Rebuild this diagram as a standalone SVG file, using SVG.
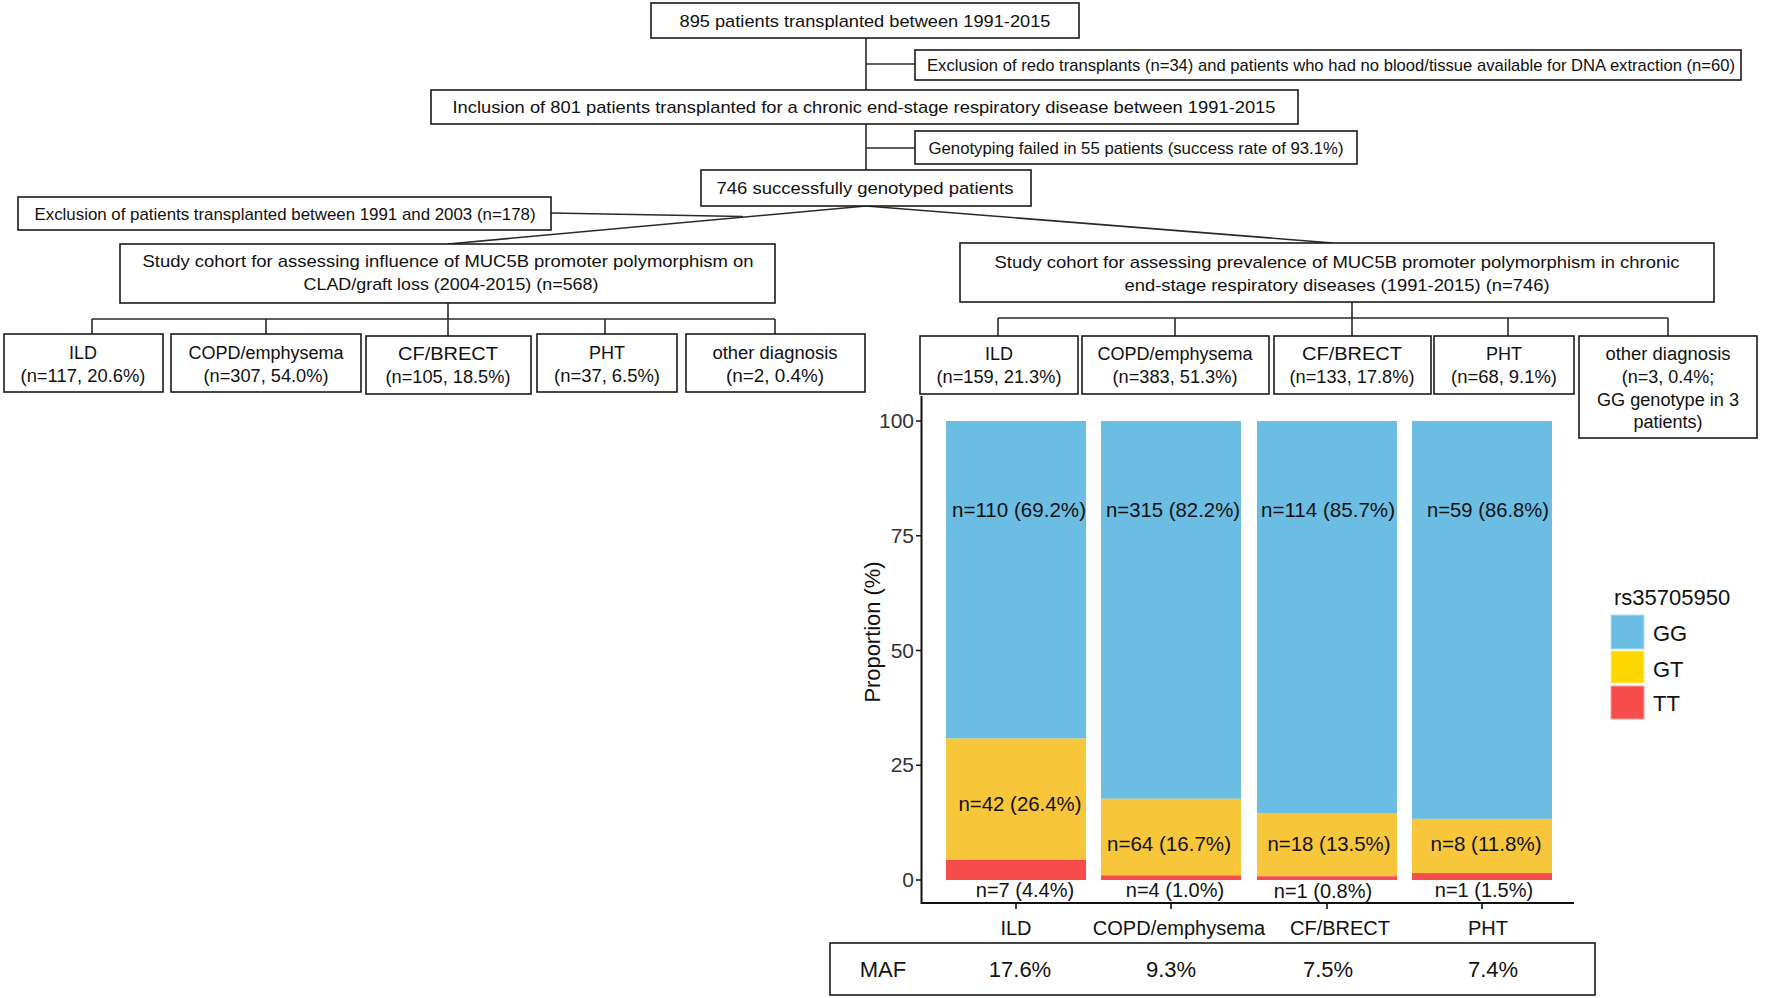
<svg xmlns="http://www.w3.org/2000/svg" width="1772" height="998" viewBox="0 0 1772 998">
<style>
.bg{fill:#ffffff}
.box{fill:#ffffff;stroke:#1a1a1a;stroke-width:1.6}
.ln{stroke:#2a2a2a;stroke-width:1.6;fill:none}
.t{font-family:"Liberation Sans",Arial,sans-serif;font-size:17px;fill:#111;text-anchor:middle}
.d{font-family:"Liberation Sans",Arial,sans-serif;font-size:18px;fill:#111;text-anchor:middle}
.c{font-family:"Liberation Sans",Arial,sans-serif;font-size:20px;fill:#111;text-anchor:middle}
.b{font-family:"Liberation Sans",Arial,sans-serif;font-size:21px;fill:#111;text-anchor:middle}
.m{font-family:"Liberation Sans",Arial,sans-serif;font-size:22px;fill:#111;text-anchor:middle}
.lg{font-family:"Liberation Sans",Arial,sans-serif;font-size:22px;fill:#111;text-anchor:start}
.tk{font-family:"Liberation Sans",Arial,sans-serif;font-size:21px;fill:#333;text-anchor:end}
.gg{fill:#6bbde3}
.gt{fill:#f8c63b}
.tt{fill:#f74c4c}
.ax{stroke:#111;stroke-width:2;fill:none}
.tick{stroke:#111;stroke-width:1.6;fill:none}
</style>
<rect class="bg" x="0" y="0" width="1772" height="998"/>

<g id="connectors">
  <line class="ln" x1="866" y1="38" x2="866" y2="90"/>
  <line class="ln" x1="866" y1="64" x2="915" y2="64"/>
  <line class="ln" x1="866" y1="124" x2="866" y2="170"/>
  <line class="ln" x1="866" y1="148" x2="915" y2="148"/>
  <line class="ln" x1="866" y1="206" x2="448" y2="244" stroke-width="2"/>
  <line class="ln" x1="866" y1="206" x2="1333" y2="243" stroke-width="2"/>
  <line class="ln" x1="551" y1="213" x2="743" y2="216.5"/>
  <line class="ln" x1="448" y1="303" x2="448" y2="336"/>
  <line class="ln" x1="92" y1="319" x2="775" y2="319"/>
  <line class="ln" x1="92" y1="319" x2="92" y2="334"/>
  <line class="ln" x1="266" y1="319" x2="266" y2="334"/>
  <line class="ln" x1="605" y1="319" x2="605" y2="334"/>
  <line class="ln" x1="775" y1="319" x2="775" y2="334"/>
  <line class="ln" x1="1352" y1="302" x2="1352" y2="336"/>
  <line class="ln" x1="998" y1="318" x2="1668" y2="318"/>
  <line class="ln" x1="998" y1="318" x2="998" y2="336"/>
  <line class="ln" x1="1175" y1="318" x2="1175" y2="336"/>
  <line class="ln" x1="1508" y1="318" x2="1508" y2="336"/>
  <line class="ln" x1="1668" y1="318" x2="1668" y2="336"/>
</g>

<g id="n-total">
  <rect class="box" x="651" y="3" width="428" height="35"/>
  <text class="t" x="865" y="27" textLength="371" lengthAdjust="spacingAndGlyphs">895 patients transplanted between 1991-2015</text>
</g>
<g id="n-excl-redo">
  <rect class="box" x="915" y="50" width="826" height="30"/>
  <text class="t" x="1331" y="71" textLength="808" lengthAdjust="spacingAndGlyphs">Exclusion of redo transplants (n=34) and patients who had no blood/tissue available for DNA extraction (n=60)</text>
</g>
<g id="n-inclusion">
  <rect class="box" x="431" y="90" width="867" height="34"/>
  <text class="t" x="864" y="113" textLength="823" lengthAdjust="spacingAndGlyphs">Inclusion of 801 patients transplanted for a chronic end-stage respiratory disease between 1991-2015</text>
</g>
<g id="n-geno-fail">
  <rect class="box" x="915" y="131" width="442" height="33"/>
  <text class="t" x="1136" y="154" textLength="415" lengthAdjust="spacingAndGlyphs">Genotyping failed in 55 patients (success rate of 93.1%)</text>
</g>
<g id="n-746">
  <rect class="box" x="701" y="170" width="330" height="36"/>
  <text class="t" x="865" y="194" textLength="297" lengthAdjust="spacingAndGlyphs">746 successfully genotyped patients</text>
</g>
<g id="n-excl-period">
  <rect class="box" x="18" y="197" width="533" height="33"/>
  <text class="t" x="285" y="220" textLength="501" lengthAdjust="spacingAndGlyphs">Exclusion of patients transplanted between 1991 and 2003 (n=178)</text>
</g>
<g id="n-cohort-clad">
  <rect class="box" x="120" y="244" width="655" height="59"/>
  <text class="t" x="448" y="267" textLength="611" lengthAdjust="spacingAndGlyphs">Study cohort for assessing influence of MUC5B promoter polymorphism on</text>
  <text class="t" x="451" y="290" textLength="295" lengthAdjust="spacingAndGlyphs">CLAD/graft loss (2004-2015) (n=568)</text>
</g>
<g id="n-cohort-prev">
  <rect class="box" x="960" y="243" width="754" height="59"/>
  <text class="t" x="1337" y="268" textLength="685" lengthAdjust="spacingAndGlyphs">Study cohort for assessing prevalence of MUC5B promoter polymorphism in chronic</text>
  <text class="t" x="1337" y="291" textLength="425" lengthAdjust="spacingAndGlyphs">end-stage respiratory diseases (1991-2015) (n=746)</text>
</g>

<g id="l-ild">
  <rect class="box" x="4" y="334" width="159" height="58"/>
  <text class="d" x="83" y="359">ILD</text>
  <text class="d" x="83" y="382" textLength="125" lengthAdjust="spacingAndGlyphs">(n=117, 20.6%)</text>
</g>
<g id="l-copd">
  <rect class="box" x="171" y="334" width="190" height="58"/>
  <text class="d" x="266" y="359" textLength="155" lengthAdjust="spacingAndGlyphs">COPD/emphysema</text>
  <text class="d" x="266" y="382" textLength="125" lengthAdjust="spacingAndGlyphs">(n=307, 54.0%)</text>
</g>
<g id="l-cf">
  <rect class="box" x="366" y="336" width="165" height="58"/>
  <text class="d" x="448" y="360" textLength="100" lengthAdjust="spacingAndGlyphs">CF/BRECT</text>
  <text class="d" x="448" y="383" textLength="125" lengthAdjust="spacingAndGlyphs">(n=105, 18.5%)</text>
</g>
<g id="l-pht">
  <rect class="box" x="537" y="334" width="140" height="58"/>
  <text class="d" x="607" y="359">PHT</text>
  <text class="d" x="607" y="382" textLength="106" lengthAdjust="spacingAndGlyphs">(n=37, 6.5%)</text>
</g>
<g id="l-other">
  <rect class="box" x="686" y="334" width="179" height="58"/>
  <text class="d" x="775" y="359" textLength="125" lengthAdjust="spacingAndGlyphs">other diagnosis</text>
  <text class="d" x="775" y="382" textLength="98" lengthAdjust="spacingAndGlyphs">(n=2, 0.4%)</text>
</g>

<g id="r-ild">
  <rect class="box" x="920" y="336" width="158" height="58"/>
  <text class="d" x="999" y="360">ILD</text>
  <text class="d" x="999" y="383" textLength="125" lengthAdjust="spacingAndGlyphs">(n=159, 21.3%)</text>
</g>
<g id="r-copd">
  <rect class="box" x="1082" y="336" width="187" height="58"/>
  <text class="d" x="1175" y="360" textLength="155" lengthAdjust="spacingAndGlyphs">COPD/emphysema</text>
  <text class="d" x="1175" y="383" textLength="125" lengthAdjust="spacingAndGlyphs">(n=383, 51.3%)</text>
</g>
<g id="r-cf">
  <rect class="box" x="1274" y="336" width="157" height="58"/>
  <text class="d" x="1352" y="360" textLength="100" lengthAdjust="spacingAndGlyphs">CF/BRECT</text>
  <text class="d" x="1352" y="383" textLength="125" lengthAdjust="spacingAndGlyphs">(n=133, 17.8%)</text>
</g>
<g id="r-pht">
  <rect class="box" x="1434" y="336" width="140" height="58"/>
  <text class="d" x="1504" y="360">PHT</text>
  <text class="d" x="1504" y="383" textLength="106" lengthAdjust="spacingAndGlyphs">(n=68, 9.1%)</text>
</g>
<g id="r-other">
  <rect class="box" x="1579" y="336" width="178" height="102"/>
  <text class="d" x="1668" y="360" textLength="125" lengthAdjust="spacingAndGlyphs">other diagnosis</text>
  <text class="d" x="1668" y="383">(n=3, 0.4%;</text>
  <text class="d" x="1668" y="406" textLength="142" lengthAdjust="spacingAndGlyphs">GG genotype in 3</text>
  <text class="d" x="1668" y="428">patients)</text>
</g>

<g id="chart">
  <rect class="gg" x="946" y="421" width="140" height="317.6"/>
  <rect class="gt" x="946" y="738.6" width="140" height="121.2"/>
  <rect class="tt" x="946" y="859.8" width="140" height="20.2"/>
  <rect class="gg" x="1101" y="421" width="140" height="377.8"/>
  <rect class="gt" x="1101" y="798.8" width="140" height="76.6"/>
  <rect class="tt" x="1101" y="875.4" width="140" height="4.6"/>
  <rect class="gg" x="1257" y="421" width="140" height="392"/>
  <rect class="gt" x="1257" y="813" width="140" height="63.3"/>
  <rect class="tt" x="1257" y="876.3" width="140" height="3.7"/>
  <rect class="gg" x="1412" y="421" width="140" height="397.9"/>
  <rect class="gt" x="1412" y="818.9" width="140" height="54.2"/>
  <rect class="tt" x="1412" y="873.1" width="140" height="6.9"/>

  <path class="ax" d="M921.5 396 V903 H1574"/>
  <path class="tick" d="M916 421H921.5M916 535.75H921.5M916 650.5H921.5M916 765.25H921.5M916 880H921.5M1016 903V909M1171 903V909M1327 903V909M1482 903V909"/>

  <text class="tk" x="914" y="428">100</text>
  <text class="tk" x="914" y="543">75</text>
  <text class="tk" x="914" y="658">50</text>
  <text class="tk" x="914" y="772">25</text>
  <text class="tk" x="914" y="887">0</text>
  <text class="m" transform="translate(880 632) rotate(-90)" textLength="141" lengthAdjust="spacingAndGlyphs">Proportion (%)</text>

  <text class="b" x="1019" y="517" textLength="134" lengthAdjust="spacingAndGlyphs">n=110 (69.2%)</text>
  <text class="b" x="1173" y="517" textLength="134" lengthAdjust="spacingAndGlyphs">n=315 (82.2%)</text>
  <text class="b" x="1328" y="517" textLength="134" lengthAdjust="spacingAndGlyphs">n=114 (85.7%)</text>
  <text class="b" x="1488" y="517" textLength="122" lengthAdjust="spacingAndGlyphs">n=59 (86.8%)</text>

  <text class="b" x="1020" y="811" textLength="123" lengthAdjust="spacingAndGlyphs">n=42 (26.4%)</text>
  <text class="b" x="1169" y="851" textLength="124" lengthAdjust="spacingAndGlyphs">n=64 (16.7%)</text>
  <text class="b" x="1329" y="851" textLength="123" lengthAdjust="spacingAndGlyphs">n=18 (13.5%)</text>
  <text class="b" x="1486" y="851" textLength="111" lengthAdjust="spacingAndGlyphs">n=8 (11.8%)</text>

  <text class="c" x="1025" y="897">n=7 (4.4%)</text>
  <text class="c" x="1175" y="897">n=4 (1.0%)</text>
  <text class="c" x="1323" y="898">n=1 (0.8%)</text>
  <text class="c" x="1484" y="897">n=1 (1.5%)</text>

  <text class="c" x="1016" y="935">ILD</text>
  <text class="c" x="1179" y="935">COPD/emphysema</text>
  <text class="c" x="1340" y="935">CF/BRECT</text>
  <text class="c" x="1488" y="935">PHT</text>
</g>

<g id="legend">
  <text class="lg" x="1614" y="605">rs35705950</text>
  <rect class="gg" x="1611" y="615" width="33" height="34" stroke="#b9dff0" stroke-width="1"/>
  <rect x="1611" y="651" width="33" height="32" fill="#ffd700" stroke="#ffe98a" stroke-width="1"/>
  <rect class="tt" x="1611" y="686" width="33" height="33" stroke="#f9a0a0" stroke-width="1"/>
  <text class="lg" x="1653" y="641">GG</text>
  <text class="lg" x="1653" y="677">GT</text>
  <text class="lg" x="1653" y="711">TT</text>
</g>

<g id="maf-table">
  <rect class="box" x="830" y="943" width="765" height="52" stroke-width="2"/>
  <text class="m" x="883" y="977">MAF</text>
  <text class="m" x="1020" y="977">17.6%</text>
  <text class="m" x="1171" y="977">9.3%</text>
  <text class="m" x="1328" y="977">7.5%</text>
  <text class="m" x="1493" y="977">7.4%</text>
</g>
</svg>
